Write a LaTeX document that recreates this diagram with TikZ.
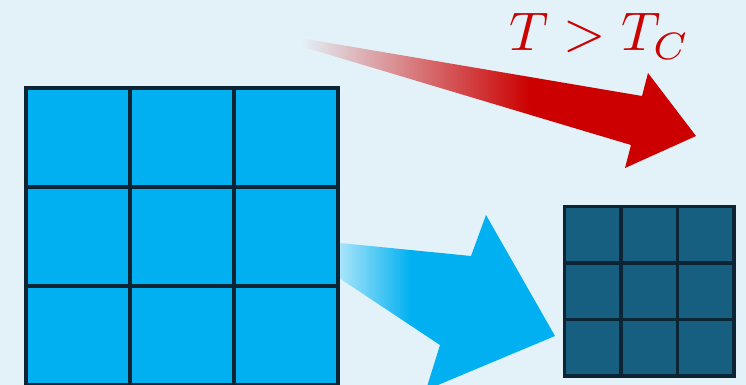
\documentclass[tikz,border=0pt]{standalone}
\usetikzlibrary{positioning}
\usepackage{xcolor}
\definecolor{bgpale}{HTML}{E3F2F8}
\definecolor{latcyan}{HTML}{00B0F0}
\definecolor{latdark}{HTML}{175F80}
\definecolor{latline}{HTML}{0B2535}
\definecolor{hotred}{HTML}{CC0000}
\pgfdeclarehorizontalshading{heatfade}{100bp}{color(0bp)=(bgpale); color(25bp)=(bgpale); color(54bp)=(hotred); color(100bp)=(hotred)}
\pgfdeclarehorizontalshading{coolfade}{100bp}{color(0bp)=(latcyan!25!white); color(25bp)=(latcyan!25!white); color(43bp)=(latcyan); color(100bp)=(latcyan)}

\begin{document}
\begin{tikzpicture}[
    x=1pt, y=-1pt,
    bigcell/.style={draw=latline, fill=latcyan, line width=4pt,
                    minimum width=104pt, minimum height=99pt,
                    inner sep=0pt, outer sep=0pt},
    smallcell/.style={draw=latline, fill=latdark, line width=3.5pt,
                      minimum size=56.5pt, inner sep=0pt, outer sep=0pt},
    heat/.style={shading=heatfade},
    shrink/.style={shading=coolfade},
    tlabel/.style={text=hotred, scale=5.45, inner sep=0pt},
  ]
    \useasboundingbox (0,0) rectangle (746,385);
    \fill[bgpale] (0,0) rectangle (746,385);

    % cooling arrow, behind the big lattice
    \coordinate (cstart) at (330,242);
    \coordinate (ctip)   at (555,336);
    \shade[shrink] (cstart) -- (471,256) -- (486,215) -- (ctip)
      -- (426,390) -- (440,345) -- (330,272) -- cycle;

    % big lattice
    \foreach \col in {0,1,2}
      \foreach \row in {0,1,2}
        \node[bigcell] (big-\col-\row) at ({78+104*\col},{137.5+99*\row}) {};

    % heating arrow
    \coordinate (hstart) at (300,38);
    \coordinate (htip)   at (696,136);
    \shade[heat] (hstart) -- (642,96) -- (648,73) -- (htip)
      -- (625,168) -- (631,145) -- (300,46) -- cycle;

    % small lattice
    \foreach \col in {0,1,2}
      \foreach \row in {0,1,2}
        \node[smallcell] (small-\col-\row) at ({592.75+56.5*\col},{234.5+56.5*\row}) {};

    \node[tlabel, anchor=base west] (crit) at (508,51) {$T>T_C$};
  \end{tikzpicture}
\end{document}
